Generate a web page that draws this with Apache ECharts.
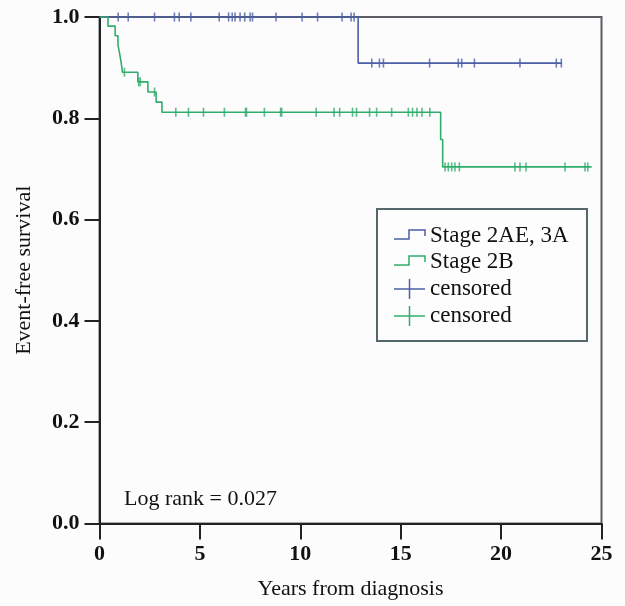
<!DOCTYPE html>
<html>
<head>
<meta charset="utf-8">
<script src="https://cdn.jsdelivr.net/npm/echarts@6/dist/echarts.min.js"></script>
<style>
  html, body { margin: 0; padding: 0; background: #fcfcfd; }
  #chart { width: 625px; height: 606px; }
</style>
</head>
<body>
<div id="chart"></div>
<script>
// Kaplan-Meier event-free survival by stage

// Stage 2AE, 3A: event times and survival after each step
const stageATimes = [0, 12.88, 23.02];
const stageASurv  = [1.0, 0.909, 0.909];
// Stage 2AE, 3A: censored follow-up times
const stageACensored = [0.93, 1.43, 2.74, 3.73, 3.97, 4.55, 5.96, 6.43, 6.61, 6.75, 7.00,
  7.23, 7.50, 7.62, 8.79, 10.09, 10.86, 12.08, 12.53, 12.68,
  13.56, 13.94, 14.14, 16.44, 17.87, 18.04, 18.67, 20.94, 22.75, 23.0];

// Stage 2B: event times and survival after each step
const stageBTimes = [0, 0.42, 0.78, 0.92, 1.00, 1.08, 1.14, 1.91, 2.41, 2.82, 3.11, 16.99, 17.09, 24.51];
const stageBSurv  = [1.0, 0.982, 0.963, 0.945, 0.928, 0.910, 0.891, 0.872, 0.852, 0.832, 0.812, 0.758, 0.704, 0.704];
// Stage 2B: censored follow-up times
const stageBCensored = [1.24, 1.95, 2.03, 2.74, 3.80, 4.43, 5.18, 6.22, 7.27, 7.32, 8.21,
  9.02, 9.07, 10.79, 11.68, 11.96, 12.60, 12.80, 13.45, 13.80, 14.55, 15.38, 15.59,
  15.81, 16.06, 16.45, 17.21, 17.37, 17.54, 17.70, 17.92, 20.69, 20.94, 21.24,
  23.18, 24.18, 24.32];

// Axis ticks
const xTicks = [0, 5, 10, 15, 20, 25];
const yTicks = [0.0, 0.2, 0.4, 0.6, 0.8, 1.0];

const legendNames = ['Stage 2AE, 3A', 'Stage 2B', 'censored', 'censored'];
const pValueText = 'Log rank = 0.027';

const BLUE = '#4a5fa6';
const GREEN = '#30ad6c';
const SERIF = '"Liberation Serif", "Times New Roman", serif';

// survival value in effect at time t (step function)
function survAt(times, surv, t) {
  let s = surv[0];
  for (let i = 0; i < times.length; i++) {
    if (times[i] <= t) s = surv[i]; else break;
  }
  return s;
}

const curveA = stageATimes.map((t, i) => [t, stageASurv[i]]);
const curveB = stageBTimes.map((t, i) => [t, stageBSurv[i]]);
const marksA = stageACensored.map(t => [t, survAt(stageATimes, stageASurv, t)]);
const marksB = stageBCensored.map(t => [t, survAt(stageBTimes, stageBSurv, t)]);

const chart = echarts.init(document.getElementById('chart'), null, { renderer: 'canvas' });

// legend box drawn with graphic elements: step icons and cross icons
const LX = 394, LY = [236, 262, 289, 316];
function stepIcon(y, color) {
  return {
    type: 'polyline',
    shape: { points: [[LX, y + 3], [LX + 15, y + 3], [LX + 15, y - 6], [LX + 31, y - 6], [LX + 31, y]] },
    style: { stroke: color, lineWidth: 1.5, fill: null }
  };
}
function crossIcon(y, color) {
  return [
    { type: 'line', shape: { x1: LX, y1: y, x2: LX + 31, y2: y }, style: { stroke: color, lineWidth: 1.5 } },
    { type: 'line', shape: { x1: LX + 15.5, y1: y - 10, x2: LX + 15.5, y2: y + 10 }, style: { stroke: color, lineWidth: 1.5 } }
  ];
}
const legendColors = [BLUE, GREEN, BLUE, GREEN];
const legendChildren = [
  { type: 'rect', shape: { x: 377, y: 209, width: 210, height: 132 },
    style: { fill: '#fdfdfd', stroke: '#55676a', lineWidth: 2 } }
];
legendNames.forEach((name, i) => {
  if (i < 2) legendChildren.push(stepIcon(LY[i], legendColors[i]));
  else legendChildren.push(...crossIcon(LY[i], legendColors[i]));
  legendChildren.push({
    type: 'text', x: 430, y: LY[i],
    style: { text: name, font: '23px ' + SERIF, fill: '#111', verticalAlign: 'middle', align: 'left' }
  });
});

chart.setOption({
  backgroundColor: '#fcfcfd',
  animation: false,
  grid: {
    left: 99.5, right: 23.5, top: 17, bottom: 82.5,
    show: true, borderColor: '#5a5d63', borderWidth: 2, backgroundColor: 'transparent'
  },
  xAxis: {
    type: 'value', min: 0, max: 25, interval: 5,
    name: 'Years from diagnosis', nameLocation: 'middle', nameGap: 55,
    nameTextStyle: { fontFamily: SERIF, fontSize: 22, color: '#111' },
    axisLine: { onZero: false, lineStyle: { color: '#222', width: 2 } },
    axisTick: { show: true, inside: false, length: 16, lineStyle: { color: '#222', width: 2 } },
    axisLabel: {
      margin: 20, fontFamily: SERIF, fontSize: 22, fontWeight: 'bold', color: '#111',
      formatter: v => xTicks.includes(v) ? String(v) : ''
    },
    splitLine: { show: false }
  },
  yAxis: {
    type: 'value', min: 0, max: 1, interval: 0.2,
    name: 'Event-free survival', nameLocation: 'middle', nameGap: 64,
    nameTextStyle: { fontFamily: SERIF, fontSize: 22, color: '#111' },
    axisLine: { show: true, onZero: false, lineStyle: { color: '#222', width: 2 } },
    axisTick: { show: true, inside: false, length: 15, lineStyle: { color: '#222', width: 2 } },
    axisLabel: {
      margin: 20, fontFamily: SERIF, fontSize: 22, fontWeight: 'bold', color: '#111',
      formatter: v => {
        const t = yTicks.find(k => Math.abs(k - v) < 1e-6);
        return t === undefined ? '' : t.toFixed(1);
      }
    },
    splitLine: { show: false }
  },
  series: [
    {
      name: legendNames[0], type: 'line', step: 'end', data: curveA,
      symbol: 'none', lineStyle: { color: BLUE, width: 1.6 }, z: 3
    },
    {
      name: legendNames[1], type: 'line', step: 'end', data: curveB,
      symbol: 'none', lineStyle: { color: GREEN, width: 1.6 }, z: 3
    },
    {
      name: 'censoredA', type: 'scatter', data: marksA,
      symbol: 'rect', symbolSize: [1.6, 9], itemStyle: { color: BLUE }, z: 4
    },
    {
      name: 'censoredB', type: 'scatter', data: marksB,
      symbol: 'rect', symbolSize: [1.6, 9], itemStyle: { color: GREEN }, z: 4
    }
  ],
  graphic: [
    { type: 'group', children: legendChildren, z: 10 },
    {
      type: 'text', x: 124, y: 499, z: 10,
      style: { text: pValueText, font: '22px ' + SERIF, fill: '#111', verticalAlign: 'middle', align: 'left' }
    }
  ]
});
</script>
</body>
</html>
